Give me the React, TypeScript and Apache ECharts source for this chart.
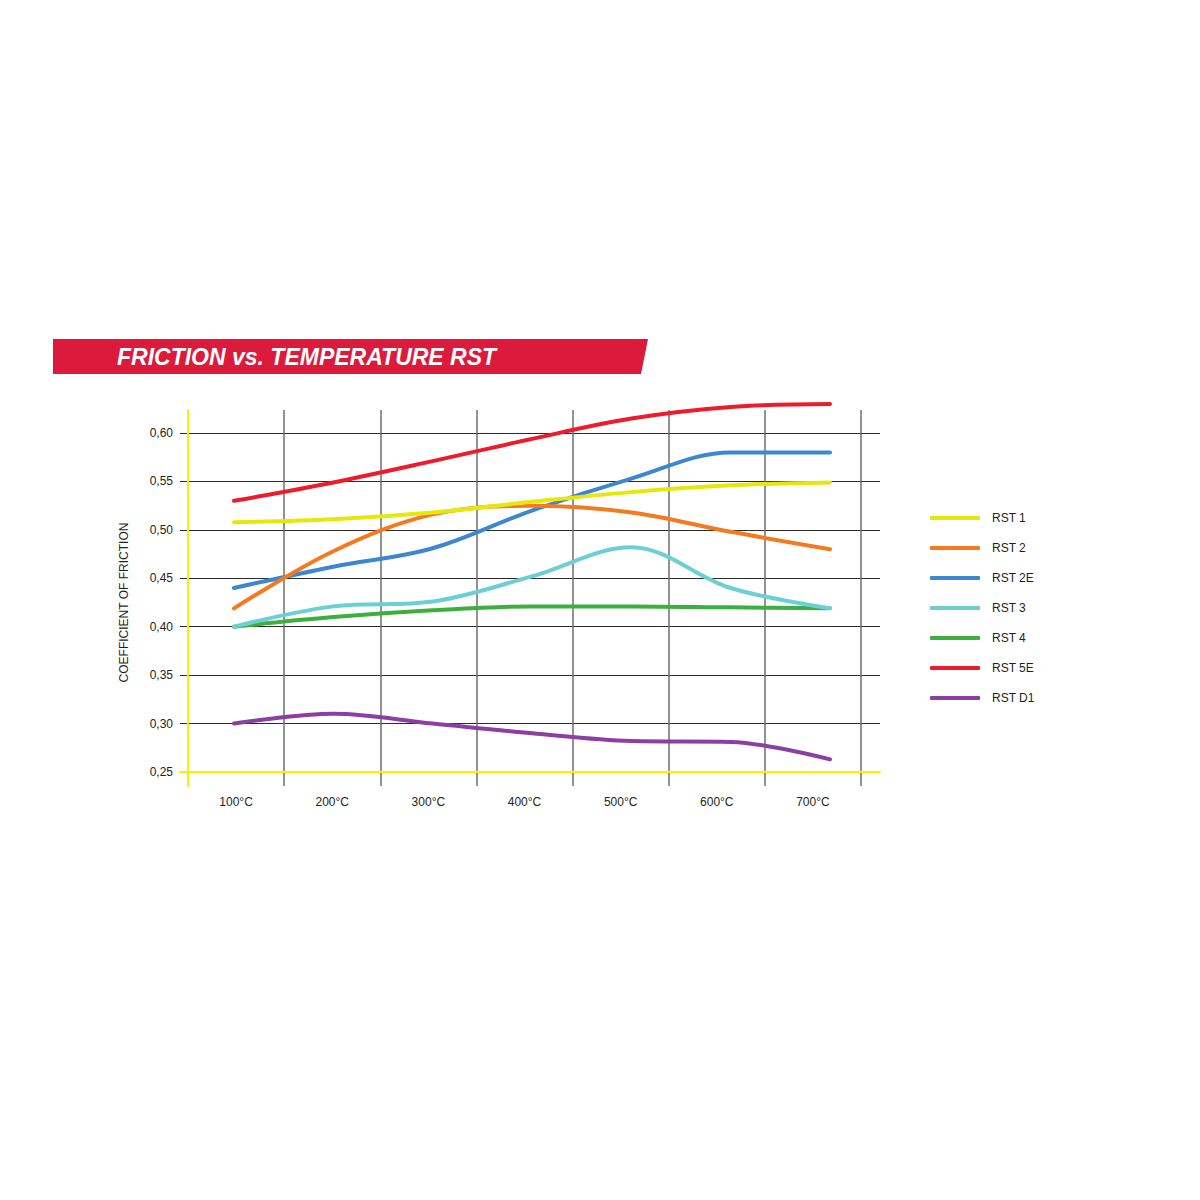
import React, { useEffect, useRef } from "react";
import * as echarts from "echarts";

const categories = ["100°C", "200°C", "300°C", "400°C", "500°C", "600°C", "700°C"];
const temps = [100, 200, 300, 400, 500, 600, 700];
const yTicks = [0.25, 0.3, 0.35, 0.4, 0.45, 0.5, 0.55, 0.6];

const rst1 = [0.508, 0.511, 0.518, 0.529, 0.539, 0.546, 0.549];
const rst2 = [0.419, 0.478, 0.516, 0.525, 0.518, 0.498, 0.48];
const rst2e = [0.44, 0.462, 0.481, 0.52, 0.553, 0.58, 0.58];
const rst3 = [0.4, 0.421, 0.426, 0.452, 0.482, 0.44, 0.419];
const rst4 = [0.4, 0.41, 0.417, 0.421, 0.421, 0.42, 0.419];
const rst5e = [0.53, 0.549, 0.571, 0.594, 0.615, 0.627, 0.63];
const rstD1 = [0.3, 0.31, 0.3, 0.29, 0.282, 0.281, 0.263];

const seriesNames = ["RST 1", "RST 2", "RST 2E", "RST 3", "RST 4", "RST 5E", "RST D1"];
const seriesData = [rst1, rst2, rst2e, rst3, rst4, rst5e, rstD1];
const seriesColors = ["#E5E80A", "#F47A20", "#3D87CF", "#6CCFD6", "#3EAF3E", "#EC1C2A", "#8B3FA3"];

const FONT = "'Liberation Sans', Arial, Helvetica, sans-serif";

export default function App() {
  const ref = useRef<HTMLDivElement>(null);

  useEffect(() => {
    if (!ref.current) return;
    const chart = echarts.init(ref.current, undefined, { renderer: "svg" });
    const yMinH = yTicks[0];
    const yMaxH = yTicks[yTicks.length - 1];
    // pixel scale: 0.05 per 48.3px
    const pxPerUnit = 966;
    const dataMin = yMinH - 14 / pxPerUnit;
    const dataMax = yMaxH + 23 / pxPerUnit;
    // data x scale in the original drawing: 100°C at 234px, 700°C at 830px, plot from 188 to 861px
    const pxPerDeg = (830 - 234) / 600;
    const xMin = 100 - (234 - 188) / pxPerDeg;
    const xMax = 700 + (861 - 830) / pxPerDeg;

    chart.setOption({
      animation: false,
      backgroundColor: "#ffffff",
      textStyle: { fontFamily: FONT },
      graphic: [
        {
          type: "polygon",
          shape: { points: [[53, 339], [648, 339], [641, 374], [53, 374]] },
          style: { fill: "#DC1A3C" },
        },
        {
          type: "text",
          x: 117,
          y: 357,
          style: {
            text: "FRICTION vs. TEMPERATURE RST",
            fill: "#ffffff",
            font: "italic bold 23px " + FONT,
            verticalAlign: "middle",
            align: "left",
          },
        },
      ],
      legend: {
        orient: "vertical",
        left: 930,
        top: 511,
        padding: 0,
        itemWidth: 50,
        itemHeight: 4,
        itemGap: 16,
        icon: "roundRect",
        data: seriesNames,
        textStyle: {
          fontFamily: FONT,
          fontSize: 12,
          color: "#231f20",
          lineHeight: 14,
          padding: [0, 0, 0, 7],
        },
      },
      grid: [
        { left: 180, right: 320, top: 433, bottom: 428 },
        { left: 188, right: 339, top: 410, bottom: 414 },
      ],
      xAxis: [
        {
          gridIndex: 0,
          type: "value",
          min: 0,
          max: 1,
          axisLine: { show: true, lineStyle: { color: "#FFEE00", width: 2 } },
          axisTick: { show: false },
          axisLabel: { show: false },
          splitLine: { show: false },
          z: 4,
        },
        {
          gridIndex: 1,
          type: "category",
          data: categories,
          boundaryGap: true,
          axisLine: { show: false },
          axisTick: { show: false },
          axisLabel: {
            show: true,
            margin: 10,
            fontFamily: FONT,
            fontSize: 12,
            color: "#231f20",
          },
          splitLine: { show: true, lineStyle: { color: "#6e6e6e", width: 1.5 } },
        },
        {
          gridIndex: 1,
          type: "value",
          min: xMin,
          max: xMax,
          show: false,
          axisLine: { show: false },
          axisTick: { show: false },
          axisLabel: { show: false },
          splitLine: { show: false },
        },
      ],
      yAxis: [
        {
          gridIndex: 0,
          type: "value",
          min: yMinH,
          max: yMaxH,
          interval: 0.05,
          axisLine: { show: false },
          axisTick: { show: false },
          axisLabel: {
            show: true,
            margin: 7,
            fontFamily: FONT,
            fontSize: 12,
            color: "#231f20",
            formatter: (v: number) => v.toFixed(2).replace(".", ","),
          },
          splitLine: { show: true, lineStyle: { color: "#2b2b2b", width: 1 } },
          name: "COEFFICIENT OF FRICTION",
          nameLocation: "middle",
          nameRotate: 90,
          nameGap: 50,
          nameTextStyle: { fontFamily: FONT, fontSize: 12, color: "#231f20" },
        },
        {
          gridIndex: 1,
          type: "value",
          min: dataMin,
          max: dataMax,
          axisLine: { show: true, onZero: false, lineStyle: { color: "#FFEE00", width: 2 } },
          axisTick: { show: false },
          axisLabel: { show: false },
          splitLine: { show: false },
          z: 5,
        },
      ],
      series: seriesNames.map((name, i) => ({
        name,
        type: "line",
        xAxisIndex: 2,
        yAxisIndex: 1,
        data: temps.map((t, k) => [t, seriesData[i][k]]),
        smooth: 0.35,
        symbol: "none",
        showSymbol: false,
        clip: false,
        lineStyle: { color: seriesColors[i], width: 4, cap: "round" },
        itemStyle: { color: seriesColors[i] },
        z: 10 + (seriesNames.length - i),
      })),
    });

    return () => {
      chart.dispose();
    };
  }, []);

  return (
    <div
      ref={ref}
      style={{ position: "fixed", left: 0, top: 0, width: 1200, height: 1200, background: "#fff" }}
    />
  );
}
